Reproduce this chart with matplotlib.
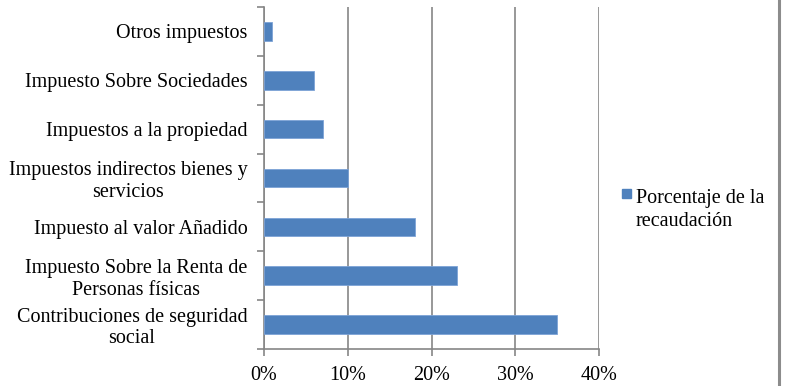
import matplotlib.pyplot as plt
from matplotlib.lines import Line2D
from matplotlib.patches import Rectangle
from matplotlib.ticker import FuncFormatter, MultipleLocator
import numpy as np

# categories from bottom to top
categories = [
    "Contribuciones de seguridad\nsocial",
    "Impuesto Sobre la Renta de\nPersonas físicas",
    "Impuesto al valor Añadido",
    "Impuestos indirectos bienes y\nservicios",
    "Impuestos a la propiedad",
    "Impuesto Sobre Sociedades",
    "Otros impuestos",
]
recaudacion = [0.35, 0.23, 0.18, 0.10, 0.07, 0.06, 0.01]
series_name = "Porcentaje de la\nrecaudación"

BAR = "#4F81BD"
GRID = "#868686"
FS = 14.5
W, H = 785, 386

plt.rcParams["font.family"] = ["Liberation Serif", "DejaVu Serif"]
plt.rcParams["font.size"] = FS

fig = plt.figure(figsize=(W / 100, H / 100), dpi=100)
ax = fig.add_axes([0.3363, 0.0959, 0.4268, 0.886])

y = np.arange(len(categories))
ax.barh(y, recaudacion, height=0.38, color=BAR, edgecolor="#7da3d6", linewidth=0.6, zorder=3)

ax.set_xlim(0, 0.40)
ax.set_ylim(-0.5, len(categories) - 0.5)
ax.xaxis.set_major_locator(MultipleLocator(0.10))
ax.xaxis.set_major_formatter(FuncFormatter(lambda v, p: "%d%%" % round(v * 100)))
ax.grid(axis="x", color=GRID, linewidth=1.2, zorder=0)

ax.set_yticks(y)
ax.set_yticklabels(categories, ha="right", multialignment="center", linespacing=1.17)
ax.set_yticks(np.arange(-0.5, len(categories)), minor=True)
ax.tick_params(axis="y", which="major", length=0, pad=12)
ax.tick_params(axis="y", which="minor", length=5, width=1.2, color=GRID)
ax.tick_params(axis="x", length=5, width=1.2, color=GRID, pad=7)

for s in ["top", "right"]:
    ax.spines[s].set_visible(False)
for s in ["left", "bottom"]:
    ax.spines[s].set_color(GRID)
    ax.spines[s].set_linewidth(1.2)

# legend: square aligned with the first text line, like the original
fig.add_artist(Rectangle((622 / W, 1 - 198 / H), 9 / W, 9 / H, transform=fig.transFigure,
                         facecolor=BAR, edgecolor=BAR))
fig.text(636 / W, 1 - 189 / H, series_name, ha="left", va="top", fontsize=FS, linespacing=1.3)

fig.add_artist(Line2D([779 / W, 779 / W], [0, 1], transform=fig.transFigure,
                      color="#8c8c8c", linewidth=2.2))

fig.savefig("out.png", dpi=100)
